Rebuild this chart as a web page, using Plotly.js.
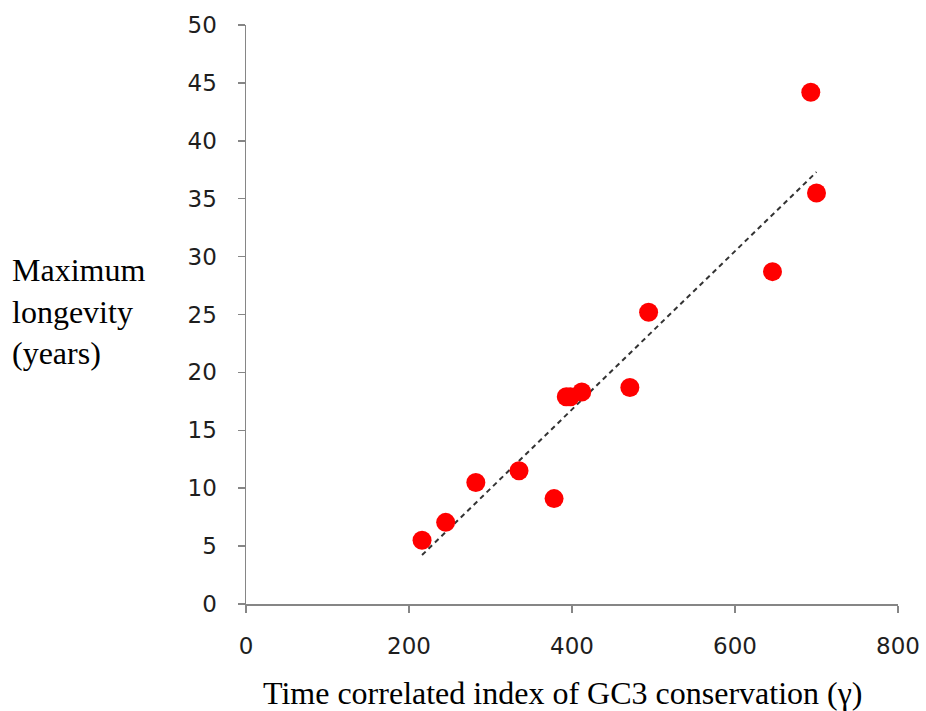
<!DOCTYPE html>
<html>
<head>
<meta charset="utf-8">
<script src="https://cdn.plot.ly/plotly-3.0.1.min.js"></script>
<style>html,body{margin:0;padding:0;background:#fff;}#chart{width:926px;height:711px;}</style>
</head>
<body>
<div id="chart"></div>
<script>
var gc3Index = [216, 245, 282, 335, 378, 393, 398, 412, 471, 494, 646, 693, 700];
var maxLongevity = [5.5, 7.05, 10.5, 11.5, 9.1, 17.9, 17.9, 18.3, 18.7, 25.2, 28.7, 44.2, 35.5];
var xTickVals = [0, 200, 400, 600, 800];
var yTickVals = [0, 5, 10, 15, 20, 25, 30, 35, 40, 45, 50];
var xTitle = 'Time correlated index of GC3 conservation (γ)';
var yTitle = 'Maximum<br>longevity<br>(years)';

// least-squares linear trendline computed from the data
var n = gc3Index.length, sx = 0, sy = 0;
for (var i = 0; i < n; i++) { sx += gc3Index[i]; sy += maxLongevity[i]; }
var mx = sx / n, my = sy / n, sxy = 0, sxx = 0;
for (var i = 0; i < n; i++) { sxy += (gc3Index[i] - mx) * (maxLongevity[i] - my); sxx += (gc3Index[i] - mx) * (gc3Index[i] - mx); }
var slope = sxy / sxx, intercept = my - slope * mx;
var xmin = Math.min.apply(null, gc3Index), xmax = Math.max.apply(null, gc3Index);
var trendX = [xmin, xmax];
var trendY = trendX.map(function (v) { return intercept + slope * v; });

var traces = [
  {x: trendX, y: trendY, mode: 'lines', type: 'scatter',
   line: {color: '#333333', width: 2, dash: '5px,4px'}, hoverinfo: 'skip'},
  {x: gc3Index, y: maxLongevity, mode: 'markers', type: 'scatter',
   marker: {color: '#ff0000', size: 19}}
];

var axisFont = {family: 'DejaVu Sans, Verdana, sans-serif', size: 23, color: '#1e1e1e'};
var serif = 'Liberation Serif, Times New Roman, serif';
var layout = {
  width: 926, height: 711,
  margin: {l: 246, r: 28, t: 25, b: 107},
  paper_bgcolor: '#fff', plot_bgcolor: '#fff',
  showlegend: false,
  xaxis: {range: [0, 800], tickvals: xTickVals, showgrid: false, zeroline: false,
          showline: true, linecolor: '#868686', linewidth: 1.5,
          ticks: 'outside', ticklen: 7, tickcolor: '#868686', tickwidth: 1.5,
          tickfont: axisFont, ticklabelstandoff: 14},
  yaxis: {range: [0, 50], tickvals: yTickVals, showgrid: false, zeroline: false,
          showline: true, linecolor: '#868686', linewidth: 1.5,
          ticks: 'outside', ticklen: 7, tickcolor: '#868686', tickwidth: 1.5,
          tickfont: axisFont, ticklabelstandoff: 16},
  annotations: [{
    text: yTitle, xref: 'paper', yref: 'paper',
    x: -246 / 652 + 10 / 652, y: (604 - 311) / 579, xanchor: 'left', yanchor: 'middle',
    align: 'left', showarrow: false,
    font: {family: serif, size: 32, color: '#000'}
  }, {
    text: xTitle, xref: 'paper', yref: 'paper',
    x: (562 - 246) / 652, y: (604 - 693) / 579, xanchor: 'center', yanchor: 'middle',
    showarrow: false,
    font: {family: serif, size: 32, color: '#000'}
  }]
};
Plotly.newPlot('chart', traces, layout, {displayModeBar: false, staticPlot: true});
</script>
</body>
</html>
